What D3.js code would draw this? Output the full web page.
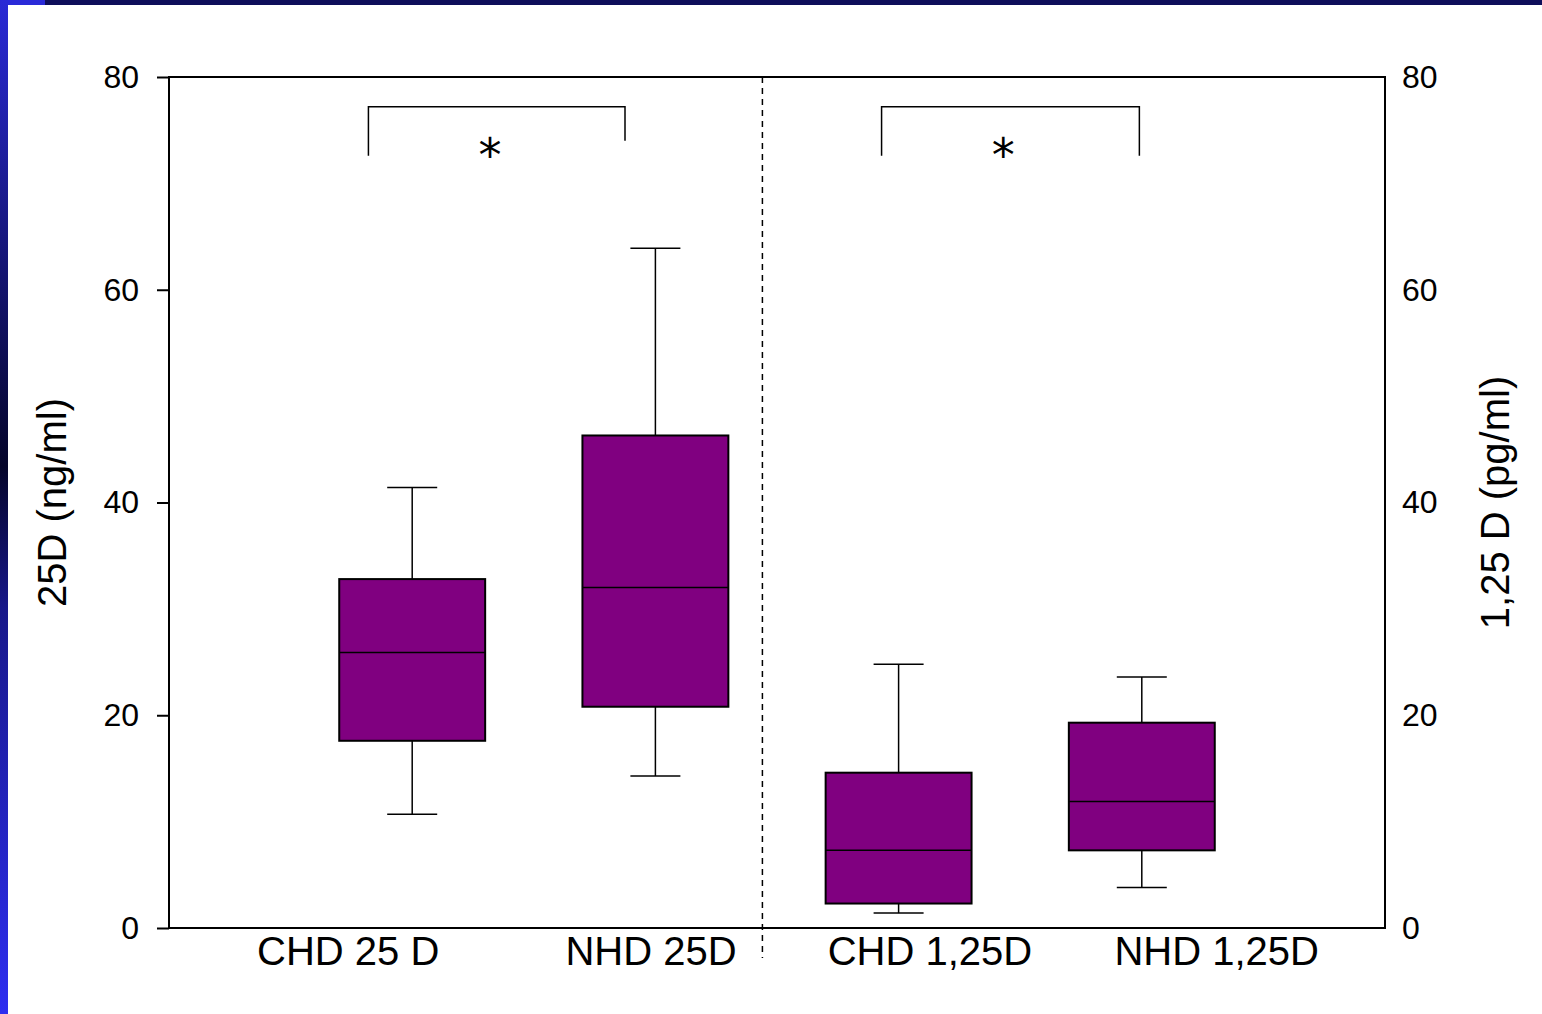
<!DOCTYPE html>
<html>
<head>
<meta charset="utf-8">
<script src="https://cdn.jsdelivr.net/npm/d3@7"></script>
<style>
  body { margin: 0; background: #fff; }
  svg { display: block; font-family: "Liberation Sans", Arial, sans-serif; }
</style>
</head>
<body>
<svg id="chart" width="1542" height="1014"></svg>
<script>
// box plot data
const groups = ["CHD 25 D", "NHD 25D", "CHD 1,25D", "NHD 1,25D"]
const whiskerLow = [10.7, 14.3, 1.4, 3.8]
const boxLow = [17.6, 20.8, 2.3, 7.3]
const medians = [25.9, 32.0, 7.3, 11.9]
const boxHigh = [32.8, 46.3, 14.6, 19.3]
const whiskerHigh = [41.4, 63.9, 24.8, 23.6]
const yTicks = [0, 20, 40, 60, 80]

// label / bracket placement in "group index" units (labels in the original sit off-centre)
const labelIndex = [-0.263, 0.982, 2.129, 3.308]
const brackets = [
  { from: -0.18, to: 0.875, top: 77.2, leftEnd: 72.6, rightEnd: 74.0, star: 0.32 },
  { from: 1.93, to: 2.99, top: 77.2, leftEnd: 72.6, rightEnd: 72.6, star: 2.43 }
]
const dividerIndex = 1.44

const svg = d3.select('#chart')
const margin = { left: 169, right: 157, top: 77, bottom: 86 }
const W = 1542, H = 1014
const x0 = margin.left, x1 = W - margin.right
const y0 = H - margin.bottom, y1 = margin.top

// slide frame: blue strip on the left, navy band along the top
const grad = svg.append('defs').append('linearGradient')
  .attr('id', 'side').attr('x1', 0).attr('x2', 0).attr('y1', 0).attr('y2', 1)
grad.append('stop').attr('offset', '0%').attr('stop-color', '#2a2ad6')
grad.append('stop').attr('offset', '46%').attr('stop-color', '#05052a')
grad.append('stop').attr('offset', '60%').attr('stop-color', '#18188a')
grad.append('stop').attr('offset', '100%').attr('stop-color', '#2e2ef0')
svg.append('rect').attr('x', 0).attr('y', 0).attr('width', W).attr('height', 5).attr('fill', '#0e0e5a')
svg.append('rect').attr('x', 0).attr('y', 0).attr('width', 45).attr('height', 5).attr('fill', '#2a2ad8')
svg.append('rect').attr('x', 0).attr('y', 0).attr('width', 8).attr('height', H).attr('fill', 'url(#side)')

const y = d3.scaleLinear().domain([0, 80]).range([y0, y1])
const x = d3.scaleBand().domain(groups).range([x0, x1]).paddingInner(0.4).paddingOuter(0.7)
const xi = d3.scaleLinear().domain([0, 3])
  .range([x(groups[0]) + x.bandwidth() / 2, x(groups[3]) + x.bandwidth() / 2])

const g = svg.append('g')

// frame
g.append('rect').attr('x', x0).attr('y', y1).attr('width', x1 - x0).attr('height', y0 - y1)
  .attr('fill', 'none').attr('stroke', '#000').attr('stroke-width', 2)

// left axis with ticks
const left = g.append('g').attr('transform', `translate(${x0},0)`)
  .call(d3.axisLeft(y).tickValues(yTicks).tickSize(12).tickPadding(18))
left.select('.domain').remove()
left.selectAll('line').attr('stroke-width', 2)
left.selectAll('text').attr('font-size', 32).attr('fill', '#000')

// right axis, labels only
const right = g.append('g').attr('transform', `translate(${x1},0)`)
  .call(d3.axisRight(y).tickValues(yTicks).tickSize(0).tickPadding(17))
right.select('.domain').remove()
right.selectAll('text').attr('font-size', 32).attr('fill', '#000')

// axis titles
svg.append('text').attr('transform', `translate(66,${(y0 + y1) / 2}) rotate(-90)`)
  .attr('text-anchor', 'middle').attr('font-size', 40).text('25D (ng/ml)')
svg.append('text').attr('transform', `translate(1509,${(y0 + y1) / 2}) rotate(-90)`)
  .attr('text-anchor', 'middle').attr('font-size', 40).text('1,25 D (pg/ml)')

// divider
g.append('line').attr('x1', xi(dividerIndex)).attr('x2', xi(dividerIndex))
  .attr('y1', y1).attr('y2', y0 + 30)
  .attr('stroke', '#000').attr('stroke-width', 1.5).attr('stroke-dasharray', '6,5')

// category labels
g.selectAll('.cat').data(groups).enter().append('text')
  .attr('class', 'cat')
  .attr('x', (d, i) => xi(labelIndex[i]))
  .attr('y', y0 + 37)
  .attr('text-anchor', 'middle').attr('font-size', 40)
  .text(d => d)

// boxes
const capW = 50
const box = g.selectAll('.box').data(groups).enter().append('g').attr('class', 'box')
box.append('line')
  .attr('x1', d => x(d) + x.bandwidth() / 2).attr('x2', d => x(d) + x.bandwidth() / 2)
  .attr('y1', (d, i) => y(whiskerLow[i])).attr('y2', (d, i) => y(whiskerHigh[i]))
  .attr('stroke', '#000').attr('stroke-width', 1.5)
box.append('line')
  .attr('x1', d => x(d) + x.bandwidth() / 2 - capW / 2).attr('x2', d => x(d) + x.bandwidth() / 2 + capW / 2)
  .attr('y1', (d, i) => y(whiskerLow[i])).attr('y2', (d, i) => y(whiskerLow[i]))
  .attr('stroke', '#000').attr('stroke-width', 1.5)
box.append('line')
  .attr('x1', d => x(d) + x.bandwidth() / 2 - capW / 2).attr('x2', d => x(d) + x.bandwidth() / 2 + capW / 2)
  .attr('y1', (d, i) => y(whiskerHigh[i])).attr('y2', (d, i) => y(whiskerHigh[i]))
  .attr('stroke', '#000').attr('stroke-width', 1.5)
box.append('rect')
  .attr('x', d => x(d)).attr('width', x.bandwidth())
  .attr('y', (d, i) => y(boxHigh[i])).attr('height', (d, i) => y(boxLow[i]) - y(boxHigh[i]))
  .attr('fill', '#800080').attr('stroke', '#000').attr('stroke-width', 2)
box.append('line')
  .attr('x1', d => x(d)).attr('x2', d => x(d) + x.bandwidth())
  .attr('y1', (d, i) => y(medians[i])).attr('y2', (d, i) => y(medians[i]))
  .attr('stroke', '#000').attr('stroke-width', 1.5)

// significance brackets
const br = g.selectAll('.bracket').data(brackets).enter().append('g').attr('class', 'bracket')
br.append('path')
  .attr('d', d => `M${xi(d.from)},${y(d.leftEnd)}V${y(d.top)}H${xi(d.to)}V${y(d.rightEnd)}`)
  .attr('fill', 'none').attr('stroke', '#000').attr('stroke-width', 1.5)
br.append('text')
  .attr('x', d => xi(d.star)).attr('y', d => y(d.top) + 64)
  .attr('text-anchor', 'middle').attr('font-size', 46)
  .attr('font-family', '"DejaVu Sans", sans-serif')
  .text('*')
</script>
</body>
</html>
